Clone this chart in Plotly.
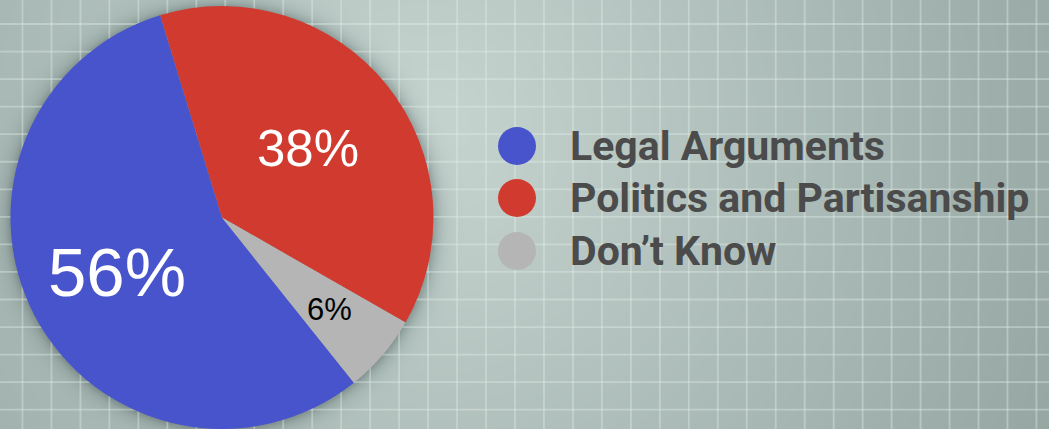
import numpy as np
import plotly.graph_objects as go

# ---- data ----
categories = ["Legal Arguments", "Politics and Partisanship", "Don\u2019t Know"]
values = [56, 38, 6]
slice_colors = ["#4854cc", "#d13b2f", "#b5b5b5"]
text_colors = ["#ffffff", "#ffffff", "#000000"]
text_sizes = [69, 51, 31]
text_radius = [0.56, 0.52, 0.67]   # fraction of pie radius where each label sits

W, H = 1049, 429
ROTATION = 141.4   # degrees clockwise from 12 o'clock where first slice starts

# pie placement (paper fractions)
dom_x = [0.0, 0.4232]
dom_y = [0.0, 0.986]
pcx = (dom_x[0] + dom_x[1]) / 2 * W
pr = (dom_y[1] - dom_y[0]) * H / 2
pcy = H - (dom_y[0] + dom_y[1]) / 2 * H

# ---- background texture (gradient + soft shadow around the pie) ----
gx = np.arange(0, W + 3, 3)
gy = np.arange(0, H + 3, 3)
XX, YY = np.meshgrid(gx, gy)
dist = np.hypot(XX - 420, YY - 130)
z = 0.75 + 0.25 * np.clip(1 - dist / 700.0, 0, 1)
dp = np.hypot(XX - pcx, YY - pcy)
shadow = np.where(dp > pr - 2, 0.26 * np.exp(-(np.maximum(dp - pr, 0)) / 8.0), 0.26)
z = z * (1 - shadow)
z = np.round(z, 3)

fig = go.Figure()
fig.add_trace(go.Heatmap(
    x=gx, y=gy, z=z.tolist(), zmin=0, zmax=1, zsmooth="best",
    colorscale=[[0, "rgb(0,0,0)"], [0.75, "rgb(149,166,163)"], [1, "rgb(199,213,208)"]],
    showscale=False, hoverinfo="skip",
))

# grid lines of the backdrop
vx = [22.5 + 28.97 * k for k in range(37)]
hy = [24 + 27.55 * k for k in range(16)]
lx, ly = [], []
for v in vx:
    lx += [v, v, None]
    ly += [0, H, None]
for h in hy:
    lx += [0, W, None]
    ly += [h, h, None]
fig.add_trace(go.Scatter(
    x=lx, y=ly, mode="lines", line=dict(color="rgba(225,236,232,0.42)", width=1.8),
    hoverinfo="skip", showlegend=False,
))

# legend circles
leg_x = 517
leg_y = [146, 198, 251]
fig.add_trace(go.Scatter(
    x=[leg_x] * len(categories), y=leg_y, mode="markers",
    marker=dict(size=38, color=slice_colors, line=dict(width=0)),
    hoverinfo="skip", showlegend=False,
))

fig.add_trace(go.Pie(
    labels=categories, values=values, sort=False, direction="clockwise",
    rotation=ROTATION, domain=dict(x=dom_x, y=dom_y),
    marker=dict(colors=slice_colors, line=dict(width=0)),
    textinfo="none",
    showlegend=False, hoverinfo="label+percent",
))

# slice labels placed at the middle angle of each slice
total = float(sum(values))
start = ROTATION
for i, v in enumerate(values):
    span = v / total * 360.0
    mid = np.radians(start + span / 2)
    start += span
    tx = pcx + text_radius[i] * pr * np.sin(mid)
    ty = pcy - text_radius[i] * pr * np.cos(mid)
    fig.add_annotation(
        x=tx, y=ty, xref="x", yref="y", text=f"{v}%", showarrow=False,
        xanchor="center", yanchor="middle",
        font=dict(family="Liberation Sans, Arial, sans-serif", size=text_sizes[i], color=text_colors[i]),
    )

for i, cat in enumerate(categories):
    fig.add_annotation(
        x=568, y=leg_y[i], xref="x", yref="y", text=cat, showarrow=False,
        xanchor="left", yanchor="middle",
        font=dict(family="Roboto, Liberation Sans, sans-serif", size=41, color="#4b4b4b", weight=700),
    )

fig.update_layout(
    width=W, height=H, margin=dict(l=0, r=0, t=0, b=0),
    paper_bgcolor="#b5c3bf", plot_bgcolor="#b5c3bf",
    xaxis=dict(range=[0, W], visible=False, fixedrange=True),
    yaxis=dict(range=[H, 0], visible=False, fixedrange=True),
    showlegend=False,
)

fig.write_html(
    "out.html",
    config={"displayModeBar": False},
    post_script="document.body.style.margin='0';document.body.style.overflow='hidden';",
)
